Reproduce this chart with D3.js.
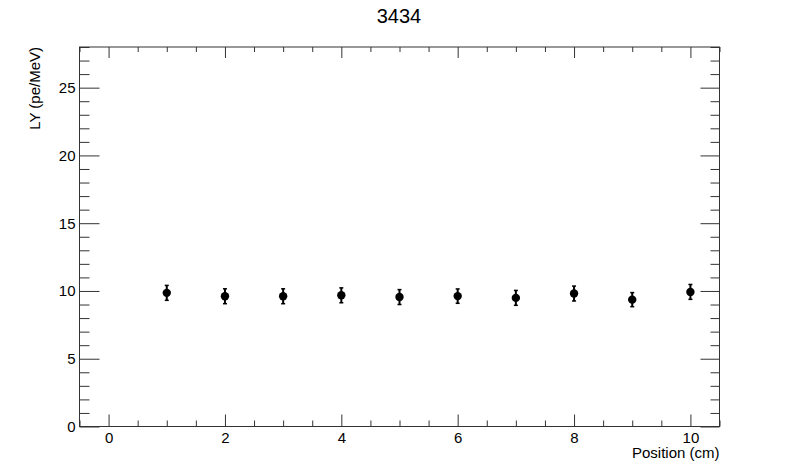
<!DOCTYPE html>
<html>
<head>
<meta charset="utf-8">
<script src="https://cdn.jsdelivr.net/npm/d3@7"></script>
<style>
  body { margin: 0; background: #fff; }
  svg text { font-family: "Liberation Sans", Arial, Helvetica, sans-serif; fill: #000; }
</style>
</head>
<body>
<div id="chart"></div>
<script>
// data
var positions = [1, 2, 3, 4, 5, 6, 7, 8, 9, 10];
var lyValues = [9.86, 9.61, 9.61, 9.68, 9.55, 9.62, 9.49, 9.81, 9.36, 9.93];
var lyErrors = [0.55, 0.55, 0.55, 0.55, 0.55, 0.53, 0.55, 0.55, 0.52, 0.55];
var xTicks = [0, 2, 4, 6, 8, 10];
var yTicks = [0, 5, 10, 15, 20, 25];

var w = 800;
var h = 475;
var padL = 79.5, padR = 719.5, padT = 47, padB = 426.5;

var xScale = d3.scaleLinear().domain([-0.5, 10.5]).range([padL, padR]);
var yScale = d3.scaleLinear().domain([0, 28]).range([padB, padT]);

var svg = d3.select("#chart").append("svg").attr("width", w).attr("height", h);

// frame
svg.append("rect")
    .attr("x", padL).attr("y", padT)
    .attr("width", padR - padL).attr("height", padB - padT)
    .attr("fill", "none").attr("stroke", "#333").attr("stroke-width", 1);

var xMinor = d3.range(-0.5, 10.51, 0.5).filter(function(v) { return v % 2 !== 0; });
var yMinor = d3.range(0, 28.01, 1).filter(function(v) { return v % 5 !== 0; });

// x axis (bottom), ticks pointing up
var xAxis = d3.axisBottom(xScale).tickValues(xTicks).tickSize(-12).tickFormat(d3.format("d"));
var gx = svg.append("g").attr("transform", "translate(0," + padB + ")").call(xAxis);
var gxm = svg.append("g").attr("transform", "translate(0," + padB + ")")
    .call(d3.axisBottom(xScale).tickValues(xMinor).tickSize(-6).tickFormat(""));
// x axis (top) mirror ticks pointing down
var gxt = svg.append("g").attr("transform", "translate(0," + padT + ")")
    .call(d3.axisTop(xScale).tickValues(xTicks).tickSize(-11).tickFormat(""));
var gxtm = svg.append("g").attr("transform", "translate(0," + padT + ")")
    .call(d3.axisTop(xScale).tickValues(xMinor).tickSize(-5).tickFormat(""));

// y axis (left), ticks pointing right
var yAxis = d3.axisLeft(yScale).tickValues(yTicks).tickSize(-20).tickFormat(d3.format("d"));
var gy = svg.append("g").attr("transform", "translate(" + padL + ",0)").call(yAxis);
var gym = svg.append("g").attr("transform", "translate(" + padL + ",0)")
    .call(d3.axisLeft(yScale).tickValues(yMinor).tickSize(-10).tickFormat(""));
// y axis (right) mirror ticks
var gyr = svg.append("g").attr("transform", "translate(" + padR + ",0)")
    .call(d3.axisRight(yScale).tickValues(yTicks).tickSize(-19).tickFormat(""));
var gyrm = svg.append("g").attr("transform", "translate(" + padR + ",0)")
    .call(d3.axisRight(yScale).tickValues(yMinor).tickSize(-9).tickFormat(""));

[gx, gxm, gxt, gxtm, gy, gym, gyr, gyrm].forEach(function(g) {
    g.attr("font-family", null);
    g.select(".domain").remove();
    g.selectAll("line").attr("stroke", "#333").attr("stroke-width", 1);
    g.selectAll("text").attr("fill", "#000").style("font-size", "15px");
});
gx.selectAll("text").attr("y", 6);
gy.selectAll("text").attr("x", -4);

// error bars
var pts = positions.map(function(p, i) { return { x: p, y: lyValues[i], e: lyErrors[i] }; });
var eb = svg.append("g").selectAll("g").data(pts).enter().append("g");
eb.append("line")
    .attr("x1", function(d) { return xScale(d.x); })
    .attr("x2", function(d) { return xScale(d.x); })
    .attr("y1", function(d) { return yScale(d.y - d.e); })
    .attr("y2", function(d) { return yScale(d.y + d.e); })
    .attr("stroke", "#000").attr("stroke-width", 2);
eb.append("line")
    .attr("x1", function(d) { return xScale(d.x) - 2; })
    .attr("x2", function(d) { return xScale(d.x) + 2; })
    .attr("y1", function(d) { return yScale(d.y + d.e); })
    .attr("y2", function(d) { return yScale(d.y + d.e); })
    .attr("stroke", "#000").attr("stroke-width", 1.5);
eb.append("line")
    .attr("x1", function(d) { return xScale(d.x) - 2; })
    .attr("x2", function(d) { return xScale(d.x) + 2; })
    .attr("y1", function(d) { return yScale(d.y - d.e); })
    .attr("y2", function(d) { return yScale(d.y - d.e); })
    .attr("stroke", "#000").attr("stroke-width", 1.5);
eb.append("circle")
    .attr("cx", function(d) { return xScale(d.x); })
    .attr("cy", function(d) { return yScale(d.y); })
    .attr("r", 4.2)
    .attr("fill", "#000");

// title
svg.append("text").attr("x", 399).attr("y", 23).attr("text-anchor", "middle")
    .style("font-size", "20px").text("3434");

// axis titles
svg.append("text").attr("text-anchor", "end")
    .attr("x", padR).attr("y", 458)
    .style("font-size", "15px").text("Position (cm)");
svg.append("text").attr("text-anchor", "end")
    .attr("transform", "translate(40," + padT + ") rotate(-90)")
    .style("font-size", "15px").text("LY (pe/MeV)");
</script>
</body>
</html>
